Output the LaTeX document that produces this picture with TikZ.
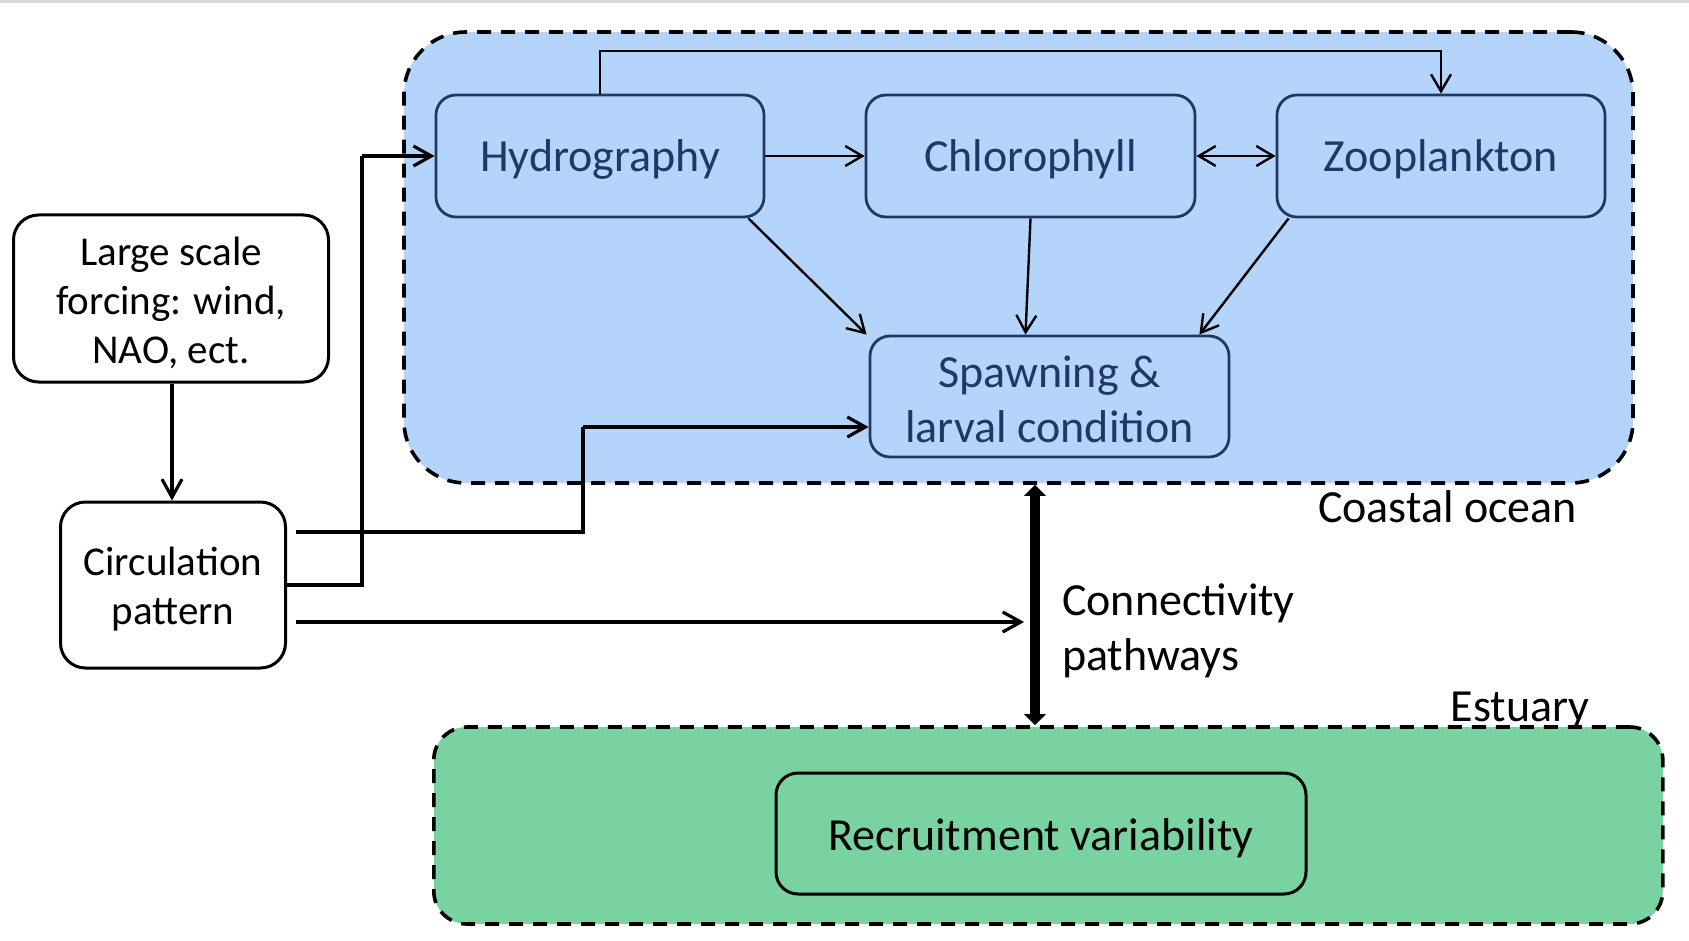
\documentclass[tikz,border=0pt]{standalone}
\usepackage{fontspec}
\setmainfont{Carlito}
\usetikzlibrary{arrows.meta}
\definecolor{oceanfill}{RGB}{181,212,251}
\definecolor{estfill}{RGB}{120,211,160}
\definecolor{navy}{RGB}{31,56,100}
\definecolor{topgray}{RGB}{217,217,217}
\begin{document}
\begin{tikzpicture}[x=1pt,y=-1pt,
  region/.style={draw=black, line width=3.6pt, dash pattern=on 14pt off 10pt, inner sep=0pt},
  bluebox/.style={draw=navy, line width=2.8pt, rounded corners=20pt, fill=oceanfill, inner sep=0pt, minimum height=122pt},
  bluetxt/.style={label={[font=\fontsize{46}{55}\selectfont, text=navy, align=center, inner sep=0pt, yshift=-3pt]center:{#1}}},
  whitebox/.style={draw=black, line width=3pt, rounded corners=25pt, fill=white, inner sep=0pt},
  whitetxt/.style={label={[font=\fontsize{41}{49}\selectfont, text=black, align=center, inner sep=0pt, yshift=-4.5pt]center:{#1}}},
  lbl/.style={font=\fontsize{46}{55}\selectfont, inner sep=0pt, text=black},
  arr/.style={draw=black, line width=2.4pt, -{Straight Barb[length=17pt,width=20pt]}},
  conn/.style={draw=black, line width=3.2pt},
  carr/.style={draw=black, line width=3.2pt, -{Straight Barb[length=18pt,width=20pt]}},
  dbl/.style={draw=black, line width=2.4pt, {Straight Barb[length=17pt,width=20pt]}-{Straight Barb[length=17pt,width=20pt]}},
  thickarr/.style={draw=black, line width=10pt, {Triangle[length=11pt,width=21pt]}-{Triangle[length=11pt,width=21pt]}}
]
\useasboundingbox (0,0) rectangle (1689,941);
\fill[topgray] (0,0) rectangle (1689,3);

% regions
\node[region, fill=oceanfill, rounded corners=62pt, minimum width=1229pt, minimum height=451pt] (coastal) at (1018.5,257.5) {};
\node[region, fill=estfill, rounded corners=33pt, minimum width=1229pt, minimum height=197pt] (estuary) at (1048.3,825.5) {};

% boxes
\node[bluebox, minimum width=328pt, bluetxt={Hydrography}] (hyd) at (600,156) {};
\node[bluebox, minimum width=329pt, bluetxt={Chlorophyll}] (chl) at (1030.5,156) {};
\node[bluebox, minimum width=328pt, bluetxt={Zooplankton}] (zoo) at (1441,156) {};
\node[bluebox, minimum width=359pt, minimum height=121pt, bluetxt={Spawning \&\\larval condition}] (spawn) at (1049.5,396.5) {};
\node[whitebox, minimum width=315pt, minimum height=167pt, whitetxt={Large scale\\forcing: wind,\\NAO, ect.}] (large) at (171,298.5) {};
\node[whitebox, minimum width=225pt, minimum height=166pt, whitetxt={Circulation\\pattern}] (circ) at (173,585) {};
\node[draw=black, line width=3pt, rounded corners=22pt, fill=estfill, inner sep=0pt,
  minimum width=530pt, minimum height=121pt,
  label={[font=\fontsize{46}{55}\selectfont, inner sep=0pt, yshift=-4.5pt]center:Recruitment variability}] (recr) at (1041,833.5) {};

% labels
\node[lbl] (lcoast) at (1447.5,506.7) {Coastal ocean};
\node[lbl, anchor=west, align=left] (lconn) at (1062,631) {Connectivity\\pathways};
\node[lbl] (lest) at (1520,710) {Estuary};

% coordinates
\coordinate (topy) at (0,51);
\coordinate (j1) at (583,427);
\coordinate (j2) at (362,156);
\coordinate (c3end) at (1024,622);
\coordinate (cx) at (1035,0);

% connectors
\draw[arr] (hyd.north) -- (hyd.north |- topy) -| (zoo.north);
\draw[arr] (hyd.east) -- (chl.west);
\draw[dbl] (chl.east) -- (zoo.west);
\draw[arr] ([xshift=-17pt]hyd.south east) -- ([xshift=-2pt]spawn.north west);
\draw[arr] (chl.south) -- ([xshift=-24pt]spawn.north);
\draw[arr] ([xshift=13pt]zoo.south west) -- ([xshift=-31pt]spawn.north east);
\draw[carr] (large.south -| 172,0) -- (circ.north -| 172,0);
\draw[conn] ([xshift=9pt,yshift=53pt]circ.east) -| (j1);
\draw[carr] (j1) -- (spawn.west |- j1);
\draw[conn] (circ.east) -| (j2);
\draw[carr] (j2) -- (hyd.west);
\draw[carr] ([xshift=9pt,yshift=-37pt]circ.east) -- (c3end);
\draw[thickarr] (coastal.south -| cx) -- (estuary.north -| cx);
\end{tikzpicture}
\end{document}
